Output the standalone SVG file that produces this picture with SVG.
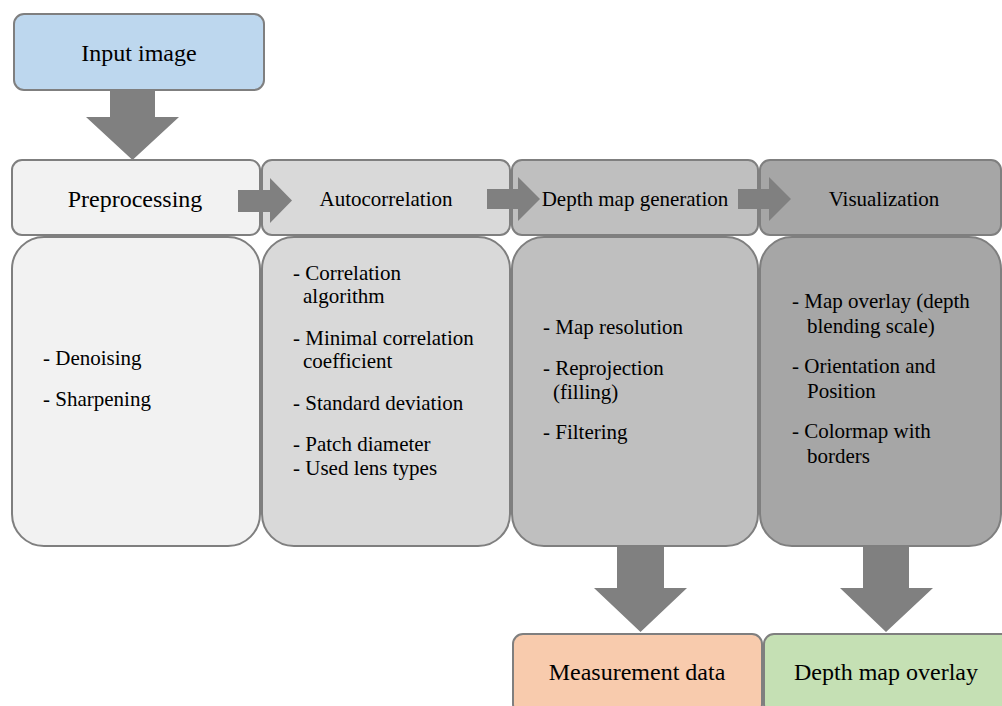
<svg xmlns="http://www.w3.org/2000/svg" width="1002" height="706" viewBox="0 0 1002 706">
<style>
.box{stroke:#7f7f7f;stroke-width:2}
text{font-family:'Liberation Serif','Times New Roman',Times,'DejaVu Serif',serif;fill:#000}
.big{font-size:24px}
.hd{font-size:21px}
.bd{font-size:21px}
.arr{fill:#808080}
</style>
<rect width="1002" height="706" fill="#ffffff"/>
<g id="input-image">
<rect class="box" x="14" y="14" width="250" height="76" rx="10" fill="#bdd7ee"/>
<text class="big" x="139" y="61" text-anchor="middle">Input image</text>
</g>
<g id="preprocessing">
<rect class="box" x="12" y="237" width="248" height="309" rx="32" fill="#f2f2f2"/>
<rect class="box" x="12" y="160" width="248" height="75" rx="10" fill="#f2f2f2"/>
<text class="big" x="135" y="207" text-anchor="middle">Preprocessing</text>
<text class="bd" x="43" y="365">- Denoising</text>
<text class="bd" x="43" y="406">- Sharpening</text>
</g>
<g id="autocorrelation">
<rect class="box" x="262" y="237" width="248" height="309" rx="32" fill="#d9d9d9"/>
<rect class="box" x="262" y="160" width="248" height="75" rx="10" fill="#d9d9d9"/>
<text class="hd" x="386" y="206" text-anchor="middle">Autocorrelation</text>
<text class="bd" x="293" y="280">- Correlation</text>
<text class="bd" x="303" y="303">algorithm</text>
<text class="bd" x="293" y="345">- Minimal correlation</text>
<text class="bd" x="303" y="368">coefficient</text>
<text class="bd" x="293" y="410">- Standard deviation</text>
<text class="bd" x="293" y="451">- Patch diameter</text>
<text class="bd" x="293" y="475">- Used lens types</text>
</g>
<g id="depth-map-generation">
<rect class="box" x="512" y="237" width="246" height="309" rx="32" fill="#bfbfbf"/>
<rect class="box" x="512" y="160" width="246" height="75" rx="10" fill="#bfbfbf"/>
<text class="hd" x="635" y="206" text-anchor="middle">Depth map generation</text>
<text class="bd" x="543" y="334">- Map resolution</text>
<text class="bd" x="543" y="375">- Reprojection</text>
<text class="bd" x="553" y="399">(filling)</text>
<text class="bd" x="543" y="439">- Filtering</text>
</g>
<g id="visualization">
<rect class="box" x="760" y="237" width="241" height="309" rx="32" fill="#a6a6a6"/>
<rect class="box" x="760" y="160" width="241" height="75" rx="10" fill="#a6a6a6"/>
<text class="hd" x="884" y="206" text-anchor="middle">Visualization</text>
<text class="bd" x="792" y="308">- Map overlay (depth</text>
<text class="bd" x="807" y="333">blending scale)</text>
<text class="bd" x="792" y="373">- Orientation and</text>
<text class="bd" x="807" y="398">Position</text>
<text class="bd" x="792" y="438">- Colormap with</text>
<text class="bd" x="807" y="463">borders</text>
</g>
<g id="measurement-data">
<rect class="box" x="513" y="634" width="249" height="80" rx="10" fill="#f8cbad"/>
<text class="big" x="637" y="680" text-anchor="middle">Measurement data</text>
</g>
<g id="depth-map-overlay">
<rect class="box" x="764" y="634" width="250" height="80" rx="10" fill="#c5e0b4"/>
<text class="big" x="886" y="680" text-anchor="middle">Depth map overlay</text>
</g>
<g id="connectors">
<polygon class="arr" points="110,90 155,90 155,117 179,117 132.5,160 86,117 110,117"/>
<polygon class="arr" points="238,190 270,190 270,178 292,200.5 270,223 270,212 238,212"/>
<polygon class="arr" points="487,189 518,189 518,177 540,199 518,221 518,209 487,209"/>
<polygon class="arr" points="738,189 769,189 769,177 791,199 769,221 769,209 738,209"/>
<polygon class="arr" points="617,547 664,547 664,588 687,588 640.5,632 594,588 617,588"/>
<polygon class="arr" points="863,547 909,547 909,588 933,588 886,632 840,588 863,588"/>
</g>
</svg>
